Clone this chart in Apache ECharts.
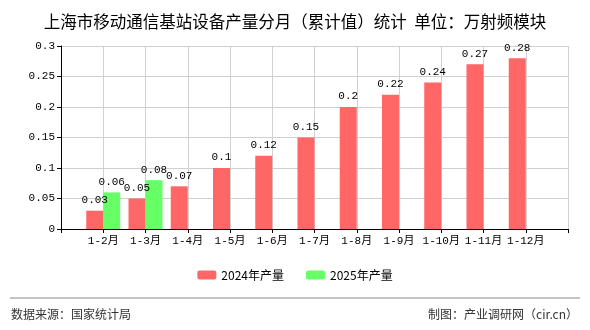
<!DOCTYPE html>
<html>
<head>
<meta charset="utf-8">
<script src="https://cdn.jsdelivr.net/npm/echarts@6/dist/echarts.min.js"></script>
<style>
html,body{margin:0;padding:0;background:#fff;}
#chart{width:590px;height:330px;}
</style>
</head>
<body>
<div id="chart"></div>
<script>
// Month ranges (blank slots pad the axis ends)
const categories = ['', '1-2月', '1-3月', '1-4月', '1-5月', '1-6月', '1-7月', '1-8月', '1-9月', '1-10月', '1-11月', '1-12月', ''];
// Cumulative output, 10k RF modules
const values2024 = [null, 0.03, 0.05, 0.07, 0.1, 0.12, 0.15, 0.2, 0.22, 0.24, 0.27, 0.28, null];
const values2025 = [null, 0.06, 0.08, null, null, null, null, null, null, null, null, null, null];
const yTicks = { min: 0, max: 0.3, interval: 0.05 };
const seriesNames = ['2024年产量', '2025年产量'];

const monoFont = '"Liberation Mono", "Noto Sans CJK SC", monospace';
const labelStyle = {
  show: true,
  position: 'top',
  distance: 5,
  color: '#000',
  fontFamily: monoFont,
  fontSize: 11
};

const chart = echarts.init(document.getElementById('chart'), null, { renderer: 'canvas' });
chart.setOption({
  animation: false,
  backgroundColor: '#fff',
  title: {
    text: '上海市移动通信基站设备产量分月（累计值）统计  单位：万射频模块',
    left: 'center',
    top: 8,
    textStyle: { fontSize: 16.5, fontWeight: 'normal', color: '#000', fontFamily: '"Noto Sans CJK SC", sans-serif' }
  },
  legend: {
    data: seriesNames,
    bottom: 44,
    left: 'center',
    itemWidth: 19,
    itemHeight: 9,
    itemGap: 22,
    textStyle: { fontSize: 12, color: '#000', fontFamily: '"Noto Sans CJK SC", sans-serif' }
  },
  grid: { left: 61, right: 22, top: 46, bottom: 101, containLabel: false },
  xAxis: {
    type: 'category',
    data: categories,
    boundaryGap: false,
    axisLine: { lineStyle: { color: '#000', width: 1 } },
    axisTick: { show: true, length: 4, alignWithLabel: true, lineStyle: { color: '#000' } },
    axisLabel: { interval: 0, color: '#000', fontSize: 11, margin: 7, fontFamily: monoFont },
    splitLine: { show: true, lineStyle: { color: '#d0d0d0', width: 1 } }
  },
  yAxis: {
    type: 'value',
    min: yTicks.min,
    max: yTicks.max,
    interval: yTicks.interval,
    axisLine: { show: true, lineStyle: { color: '#000', width: 1 } },
    axisTick: { show: true, length: 4, lineStyle: { color: '#000' } },
    axisLabel: { color: '#000', fontSize: 11, margin: 6, fontFamily: monoFont },
    splitLine: { show: true, lineStyle: { color: '#d0d0d0', width: 1 } }
  },
  series: [
    {
      name: seriesNames[0],
      type: 'bar',
      data: values2024,
      barWidth: 17,
      barGap: '0%',
      itemStyle: { color: '#ff6666' },
      label: labelStyle
    },
    {
      name: seriesNames[1],
      type: 'bar',
      data: values2025,
      barWidth: 17,
      barGap: '0%',
      itemStyle: { color: '#66ff66' },
      label: labelStyle
    }
  ],
  graphic: [
    {
      type: 'line',
      shape: { x1: 10, y1: 298, x2: 580, y2: 298 },
      style: { stroke: '#888', lineWidth: 1 }
    },
    {
      type: 'text',
      left: 11,
      top: 308,
      style: { text: '数据来源：国家统计局', fontSize: 12, fill: '#333', fontFamily: '"Noto Sans CJK SC", sans-serif' }
    },
    {
      type: 'text',
      right: 12,
      top: 308,
      style: { text: '制图：产业调研网（cir.cn）', fontSize: 12, fill: '#333', fontFamily: '"Noto Sans CJK SC", sans-serif' }
    }
  ]
});
</script>
</body>
</html>
